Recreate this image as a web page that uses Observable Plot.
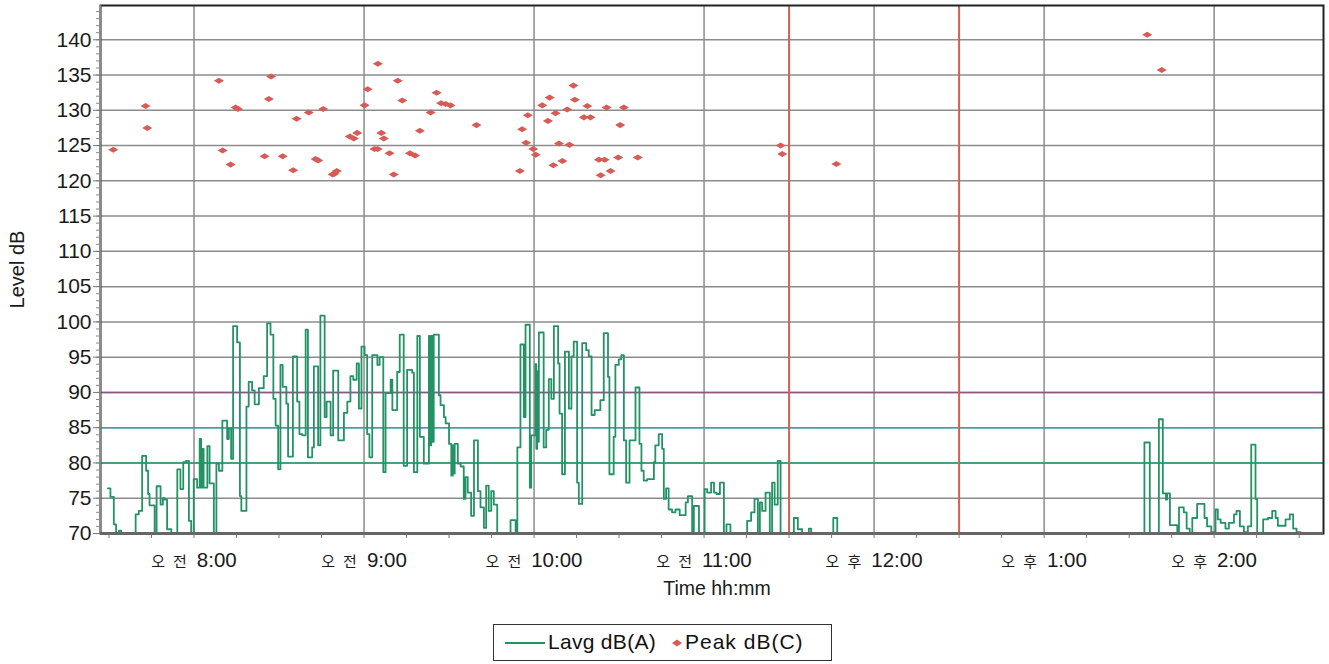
<!DOCTYPE html>
<html>
<head>
<meta charset="utf-8">
<script src="https://cdn.jsdelivr.net/npm/d3@7"></script>
<script src="https://cdn.jsdelivr.net/npm/@observablehq/plot@0.6"></script>
<style>
  html, body { margin: 0; padding: 0; background: #fff; }
  body { width: 1329px; height: 664px; position: relative; overflow: hidden; font-family: "Liberation Sans", Arial, sans-serif; }
  #chart svg { display: block; }
  #legend { position: absolute; left: 493px; top: 624px; width: 339px; height: 37px; box-sizing: border-box;
            border: 1.5px solid #333; font-size: 21px; color: #111; }
  #legend .it { position: absolute; top: 0; height: 34px; line-height: 34px; }
</style>
</head>
<body>
<div id="chart"></div>
<div id="legend">
  <svg class="it" style="left:11px" width="42" height="34"><line x1="0" x2="40" y1="18" y2="18" stroke="#239365" stroke-width="2"/></svg>
  <span class="it" style="left:54px; letter-spacing:0.3px">Lavg dB(A)</span>
  <svg class="it" style="left:177px" width="14" height="34"><path d="M1,18 L6,14.5 L11,18 L6,21.5 Z" fill="#d65c55"/></svg>
  <span class="it" style="left:191px; letter-spacing:1px">Peak dB(C)</span>
</div>
<script>
// time = minutes after 7:00
const lavgTimesAM = [29.6,30.5,31.7,32.5,33.5,34.3,39.4,40.5,41.7,43.1,43.8,44.3,46.1,46.8,48.2,49.0,49.6,50.5,52.0,54.1,55.2,56.2,57.2,58.2,59.0,59.9,61.1,62.0,62.5,62.9,63.4,64.7,65.5,67.0,67.9,68.8,70.0,71.7,72.3,73.1,73.8,75.2,76.2,76.7,78.5,79.3,80.5,81.4,82.9,84.6,85.8,87.0,88.0,88.8,89.7,90.5,91.3,92.6,93.2,94.9,96.4,97.2,98.2,99.4,100.2,101.7,102.3,103.8,104.6,106.1,106.8,108.2,109.1,110.9,112.9,114.1,115.2,116.2,117.4,118.2,119.1,120.2,121.1,121.9,122.9,124.7,125.5,126.8,127.6,129.4,130.0,131.7,132.6,134.0,135.2,137.0,137.6,138.8,139.7,141.1,142.9,143.3,143.7,144.1,144.6,146.4,147.0,148.2,148.8,150.0,150.8,151.3,151.6,152.0,153.1,154.1,155.2,155.8,156.6,157.8,158.8,160.2,161.1,162.3,163.1,164.0,164.9,165.8,167.0,171.7,173.5,174.1,175.2,176.4,177.0,178.5,179.0,180.5,180.8,181.1,181.4,181.7,183.4,184.3,185.2,186.1,187.0,188.5,189.0,189.9,190.9,192.3,193.2,194.0,195.2,195.8,197.0,198.4,199.3,200.3,201.4,203.4,204.6,206.1,206.6,208.1,208.7,209.9,210.8,211.7,212.5,213.7,215.8,217.2,217.9,218.7,219.9,222.3,222.8,224.0,225.2,225.8,226.6,227.5,228.7,229.9,231.4,233.5,234.3,235.8,236.4,238.2,240.2,241.1,242.5,243.5,244.4,245.6,247.0,247.9,249.3,255.2,256.6,257.8,259.0,259.7,260.5,261.7,263.2,264.0,264.9,266.0,267.0,271.7,273.1,274.6,277.0,277.8,285.6,287.0,287.6];
const lavgValuesAM = [76.4,75.2,71.3,70,70.4,70,72.7,73.2,81,78.9,75.6,74,70,76.7,74.1,75,74.8,70.6,70,79.1,76.3,80.1,80.3,71.8,70,77.7,76.5,83.4,76.5,82,76.5,82.4,77.1,70,79.9,78.9,86,83.4,84.9,80.6,99.4,97.1,75.3,73.2,88,91.5,90.3,88.3,90.6,92.3,99.8,98.2,89.1,85.3,79.1,93.9,90.8,88.4,80.9,95.1,88.7,84.1,83.9,98.9,80.8,82.2,93.7,82.5,100.9,86.5,88.7,83.9,93.1,83.2,87.1,88.7,92.3,91.8,94.1,87.7,96.5,95.3,84.1,80.8,95.3,93.9,95,78.7,89.9,91.8,87.5,92.9,98.2,79.6,93.2,92.8,78.7,98,83.7,79.9,98,82.5,98,83,98.2,89.6,88.2,86.5,85.6,82.7,78.2,82.5,78.5,82.7,79.9,79.5,74.9,78,75.8,72.5,83.2,76,73.7,70.8,76.8,73.2,76,74.1,70,71.9,70,82.2,96.8,86.5,99.6,76.5,83.9,94,82,93,83,98.5,82.2,84.7,91.9,89.1,99.4,94.1,87,78.4,95.8,87.7,95.1,97.2,77.2,74.2,97,96,95.1,86.8,87.5,88.9,98.4,92.2,78.4,83.7,93.9,94.7,95.3,83.2,77.2,83.2,90.7,82.7,78.9,77.5,77.7,80.1,82.5,84.1,82,74.9,76.4,73.4,73,73.4,72.6,74.4,75.3,70,73.9,70,76.3,75.8,77.2,75.8,75.6,77.2,70,71.3,70,71.8,73,74.9,70,74.4,73.2,75.8,70,77.2,74.1,80.3,70,72.2,70.6,70,70.7,70,72.2,70,70];
const lavgTimesPM = [390.5,395.4,397.3,400.5,401.9,403.0,403.4,404.4,407.0,407.6,409.3,410.3,411.4,412.3,414.0,416.6,417.5,419.0,420.5,421.3,422.3,424.0,425.2,427.0,427.9,429.1,430.5,431.9,433.1,434.6,435.2,437.3,439.0,440.5,441.7,442.5,445.2,446.7,447.9,449.1,450.5,452.0];
const lavgValuesPM = [70,82.9,70,86.2,75.7,74.8,75.7,71.2,70,73.7,73,70.7,70,72.2,74.2,72.2,71,70.2,73.4,72,71.5,70.7,71.5,72.7,73.2,71,70.2,71,82.6,74.9,70,72,72.2,73.2,72.2,71.1,72,72.7,70.7,70.2,70,70];

const peakTimes = [31.5,42.9,43.5,68.8,70.1,72.9,74.7,75.5,84.9,86.4,87.2,91.3,95.0,96.2,100.5,102.9,103.8,105.6,108.9,109.5,110.4,115.0,116.4,117.6,120.2,121.3,124.9,123.7,124.8,126.1,127.0,129.0,130.5,131.9,133.5,136.2,138.0,139.7,143.5,145.6,147.2,148.8,150.5,159.7,175.0,175.8,177.2,177.8,179.7,180.6,182.9,184.9,185.5,186.8,187.6,188.8,190.0,191.7,192.5,193.9,194.4,197.6,199.9,198.8,202.9,204.9,203.5,205.6,207.0,209.7,210.4,211.7,216.6,267.0,267.6,286.7,396.4,401.5];
const peakValues = [124.4,130.6,127.5,134.2,124.3,122.3,130.4,130.2,123.5,131.6,134.8,123.5,121.5,128.8,129.7,123.1,122.9,130.2,120.9,121.0,121.4,126.3,126.0,126.8,130.7,133.0,136.6,124.5,124.5,126.8,126.0,123.9,120.9,134.2,131.4,123.9,123.6,127.1,129.7,132.5,131.0,130.9,130.7,127.9,121.4,127.3,125.4,129.3,124.5,123.7,130.7,128.5,131.8,122.2,129.6,125.3,122.8,130.1,125.1,133.5,131.5,129.0,129.0,130.6,123.0,123.0,120.8,130.4,121.4,123.3,127.9,130.4,123.3,125.0,123.8,122.4,140.7,135.7];

const hourTicks = [60,120,180,240,300,360,420];
const hourLabels = ["8:00","9:00","10:00","11:00","12:00","1:00","2:00"];
const ampmLabels = ["오 전","오 전","오 전","오 전","오 후","오 후","오 후"];
const limitLevels = [90, 85, 80];
const limitColors = ["#8f5486", "#2fa4c4", "#2c9c6c"];
const breakTimes = [270, 330];
const yMajorTicks = d3.range(70, 141, 5);
const yMinorTicks = d3.range(70, 145, 1);
const xMinorTicks = d3.range(30, 451, 15);
const xDomain = [27, 458.6];
const yDomain = [70, 144.86];

const amTable = lavgTimesAM.map((t, i) => ({t, v: lavgValuesAM[i]}));
const pmTable = lavgTimesPM.map((t, i) => ({t, v: lavgValuesPM[i]}));
const peakTable = peakTimes.map((t, i) => ({t, v: peakValues[i]}));

const wideDiamond = {
  draw(ctx, size) {
    const s = Math.sqrt(size), w = s * 0.62, h = s * 0.37;
    ctx.moveTo(-w, 0); ctx.lineTo(0, -h); ctx.lineTo(w, 0); ctx.lineTo(0, h); ctx.closePath();
  }
};

const gridColor = "#8c8c8c";
const plot = Plot.plot({
  width: 1329, height: 610,
  marginLeft: 100, marginRight: 6, marginTop: 5, marginBottom: 77,
  style: {fontFamily: "'Liberation Sans', Arial, sans-serif", background: "#fff", color: "#1a1a1a", overflow: "visible"},
  x: {domain: xDomain, axis: null, label: null},
  y: {domain: yDomain, axis: null, label: null},
  marks: [
    Plot.ruleY(yMajorTicks, {stroke: gridColor, strokeWidth: 1.5}),
    Plot.ruleX(hourTicks, {stroke: gridColor, strokeWidth: 1.5}),
    ...limitLevels.map((lv, i) => Plot.ruleY([lv], {stroke: limitColors[i], strokeWidth: 1.6})),
    Plot.ruleX(breakTimes, {stroke: "#d4604f", strokeWidth: 2}),
    Plot.lineY(amTable, {x: "t", y: "v", curve: "step-after", stroke: "#239365", strokeWidth: 1.8}),
    Plot.lineY(pmTable, {x: "t", y: "v", curve: "step-after", stroke: "#239365", strokeWidth: 1.8}),
    Plot.dot(peakTable, {x: "t", y: "v", symbol: wideDiamond, r: 4.6, fill: "#d65c55", stroke: "none"}),
    Plot.frame({stroke: "#222", strokeWidth: 2}),
    Plot.ruleX([xDomain[0]], {stroke: "#888", strokeWidth: 1.5}),
    Plot.ruleY([70], {stroke: "#666", strokeWidth: 3}),
    Plot.axisY({ticks: yMinorTicks, tickSize: 4, tickFormat: () => "", stroke: "#888", label: null}),
    Plot.axisY({ticks: yMajorTicks, tickSize: 7, tickPadding: 2, fontSize: 21, stroke: "#777", label: null}),
    Plot.axisX({ticks: xMinorTicks, tickSize: 5, tickFormat: () => "", stroke: "#777", label: null}),
    Plot.text(hourTicks, {x: d => d, frameAnchor: "bottom", dy: 27, text: d => hourLabels[hourTicks.indexOf(d)],
      fontSize: 20.5, textAnchor: "middle", lineAnchor: "middle", fill: "#1a1a1a"}),
    Plot.text(["Time hh:mm"], {frameAnchor: "bottom", dy: 55, dx: 5, text: d => d, fontSize: 19.5,
      textAnchor: "middle", lineAnchor: "middle", fill: "#1a1a1a"}),
    Plot.text(["Level dB"], {frameAnchor: "left", dx: -83, rotate: -90, text: d => d, fontSize: 20,
      textAnchor: "middle", lineAnchor: "middle", fill: "#1a1a1a"})
  ]
});

// split hour labels into smaller Korean AM/PM prefix + time
const ns = "http://www.w3.org/2000/svg";
Array.from(plot.querySelectorAll("text")).forEach(el => {
  const idx = hourLabels.indexOf(el.textContent.trim());
  if (idx < 0) return;
  const parts = ampmLabels[idx].split(" ");
  while (el.firstChild) el.removeChild(el.firstChild);
  parts.forEach((p, j) => {
    const ts = document.createElementNS(ns, "tspan");
    ts.setAttribute("font-size", "15");
    ts.setAttribute("font-family", "'Noto Sans CJK KR', sans-serif");
    if (j > 0) ts.setAttribute("dx", "8");
    ts.textContent = p;
    el.appendChild(ts);
  });
  const tt = document.createElementNS(ns, "tspan");
  tt.setAttribute("dx", "10");
  tt.textContent = hourLabels[idx];
  el.appendChild(tt);
});

document.getElementById("chart").appendChild(plot);
</script>
</body>
</html>
